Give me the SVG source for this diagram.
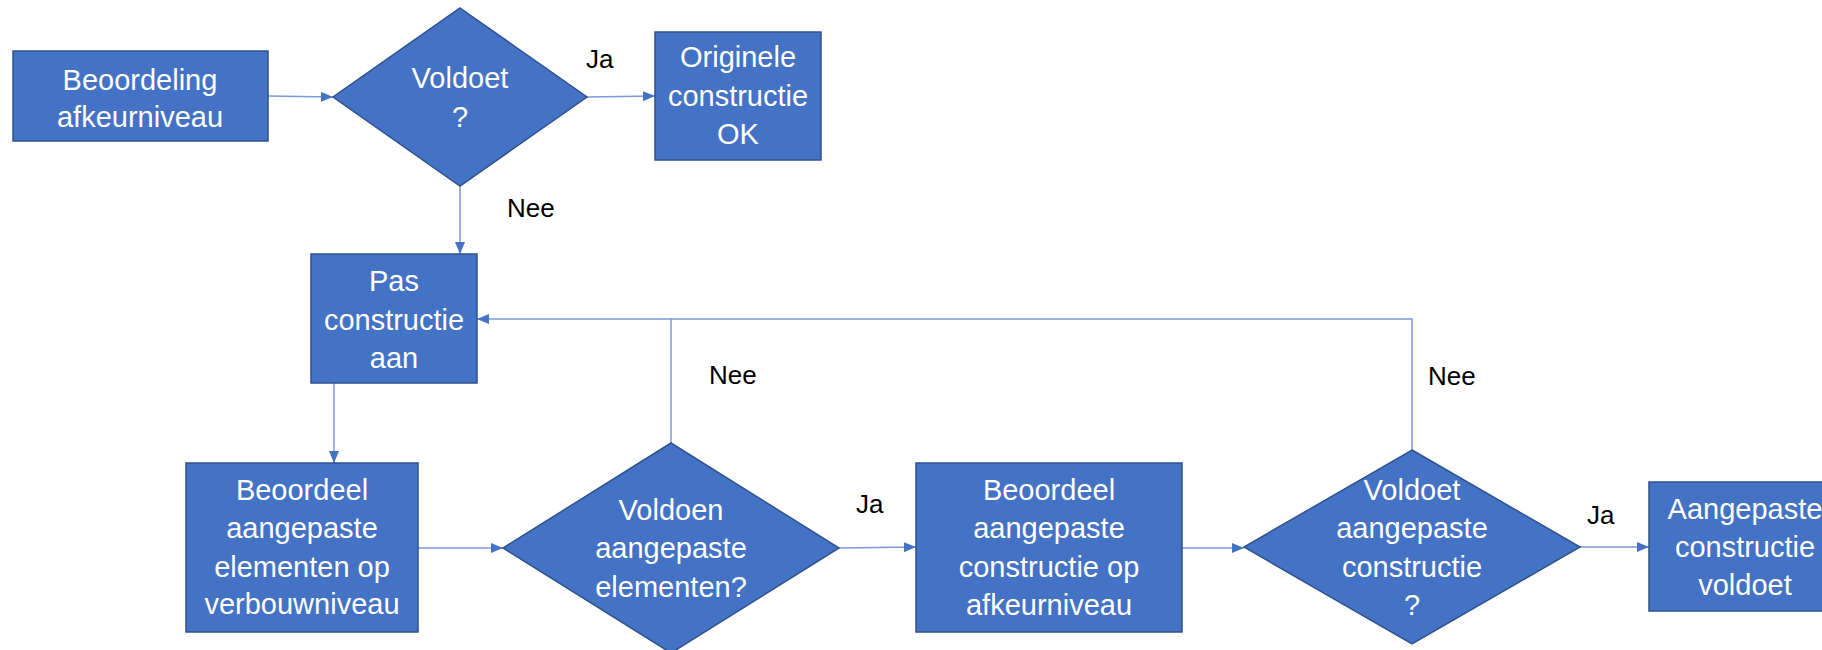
<svg xmlns="http://www.w3.org/2000/svg" width="1822" height="650" viewBox="0 0 1822 650">
<style>
.box{fill:#4472C4;stroke:#2F528F;stroke-width:1.5}
.t{fill:#FFFFFF;font-family:"Liberation Sans",Arial,sans-serif;font-size:29px;text-anchor:middle}
.lbl{fill:#000000;font-family:"Liberation Sans",Arial,sans-serif;font-size:26px}
.c{fill:none;stroke:#7B9BD8;stroke-width:1.5}
</style>
<defs>
<marker id="ah" markerWidth="12" markerHeight="10" refX="12" refY="5" orient="auto" markerUnits="userSpaceOnUse">
<path d="M0,0 L12,5 L0,10 Z" fill="#4472C4"/>
</marker>
</defs>
<rect width="1822" height="650" fill="#FFFFFF"/>
<g id="connectors">
<path class="c" d="M268,96 L333,97" marker-end="url(#ah)"/>
<path class="c" d="M587,97 L655,96" marker-end="url(#ah)"/>
<path class="c" d="M460,186 L460,254" marker-end="url(#ah)"/>
<path class="c" d="M334,383 L334,463" marker-end="url(#ah)"/>
<path class="c" d="M418,548 L503,548" marker-end="url(#ah)"/>
<path class="c" d="M839,548 L916,547" marker-end="url(#ah)"/>
<path class="c" d="M1182,548 L1244,548" marker-end="url(#ah)"/>
<path class="c" d="M1580,547 L1649,547" marker-end="url(#ah)"/>
<path class="c" d="M671,443 L671,319 L477,319" marker-end="url(#ah)"/>
<path class="c" d="M1412,450 L1412,319 L671,319"/>
<text class="lbl" x="586" y="68">Ja</text>
<text class="lbl" x="507" y="217">Nee</text>
<text class="lbl" x="709" y="384">Nee</text>
<text class="lbl" x="856" y="513">Ja</text>
<text class="lbl" x="1428" y="385">Nee</text>
<text class="lbl" x="1587" y="524">Ja</text>
</g>
<g id="n1">
<rect class="box" x="13" y="51" width="255" height="90"/>
<text class="t" x="140" y="90">Beoordeling</text>
<text class="t" x="140" y="127">afkeurniveau</text>
</g>
<g id="d1">
<polygon class="box" points="460,8 587,97 460,186 333,97"/>
<text class="t" x="460" y="88">Voldoet</text>
<text class="t" x="460" y="127">?</text>
</g>
<g id="n2">
<rect class="box" x="655" y="32" width="166" height="128"/>
<text class="t" x="738" y="67">Originele</text>
<text class="t" x="738" y="106">constructie</text>
<text class="t" x="738" y="144">OK</text>
</g>
<g id="n3">
<rect class="box" x="311" y="254" width="166" height="129"/>
<text class="t" x="394" y="291">Pas</text>
<text class="t" x="394" y="330">constructie</text>
<text class="t" x="394" y="368">aan</text>
</g>
<g id="n4">
<rect class="box" x="186" y="463" width="232" height="169"/>
<text class="t" x="302" y="500">Beoordeel</text>
<text class="t" x="302" y="538">aangepaste</text>
<text class="t" x="302" y="577">elementen op</text>
<text class="t" x="302" y="614">verbouwniveau</text>
</g>
<g id="d2">
<polygon class="box" points="671,443 839,548 671,653 503,548"/>
<text class="t" x="671" y="520">Voldoen</text>
<text class="t" x="671" y="558">aangepaste</text>
<text class="t" x="671" y="597">elementen?</text>
</g>
<g id="n5">
<rect class="box" x="916" y="463" width="266" height="169"/>
<text class="t" x="1049" y="500">Beoordeel</text>
<text class="t" x="1049" y="538">aangepaste</text>
<text class="t" x="1049" y="577">constructie op</text>
<text class="t" x="1049" y="615">afkeurniveau</text>
</g>
<g id="d3">
<polygon class="box" points="1412,450 1580,547 1412,644 1244,547"/>
<text class="t" x="1412" y="500">Voldoet</text>
<text class="t" x="1412" y="538">aangepaste</text>
<text class="t" x="1412" y="577">constructie</text>
<text class="t" x="1412" y="615">?</text>
</g>
<g id="n6">
<rect class="box" x="1649" y="482" width="192" height="129"/>
<text class="t" x="1745" y="519">Aangepaste</text>
<text class="t" x="1745" y="557">constructie</text>
<text class="t" x="1745" y="595">voldoet</text>
</g>
</svg>
